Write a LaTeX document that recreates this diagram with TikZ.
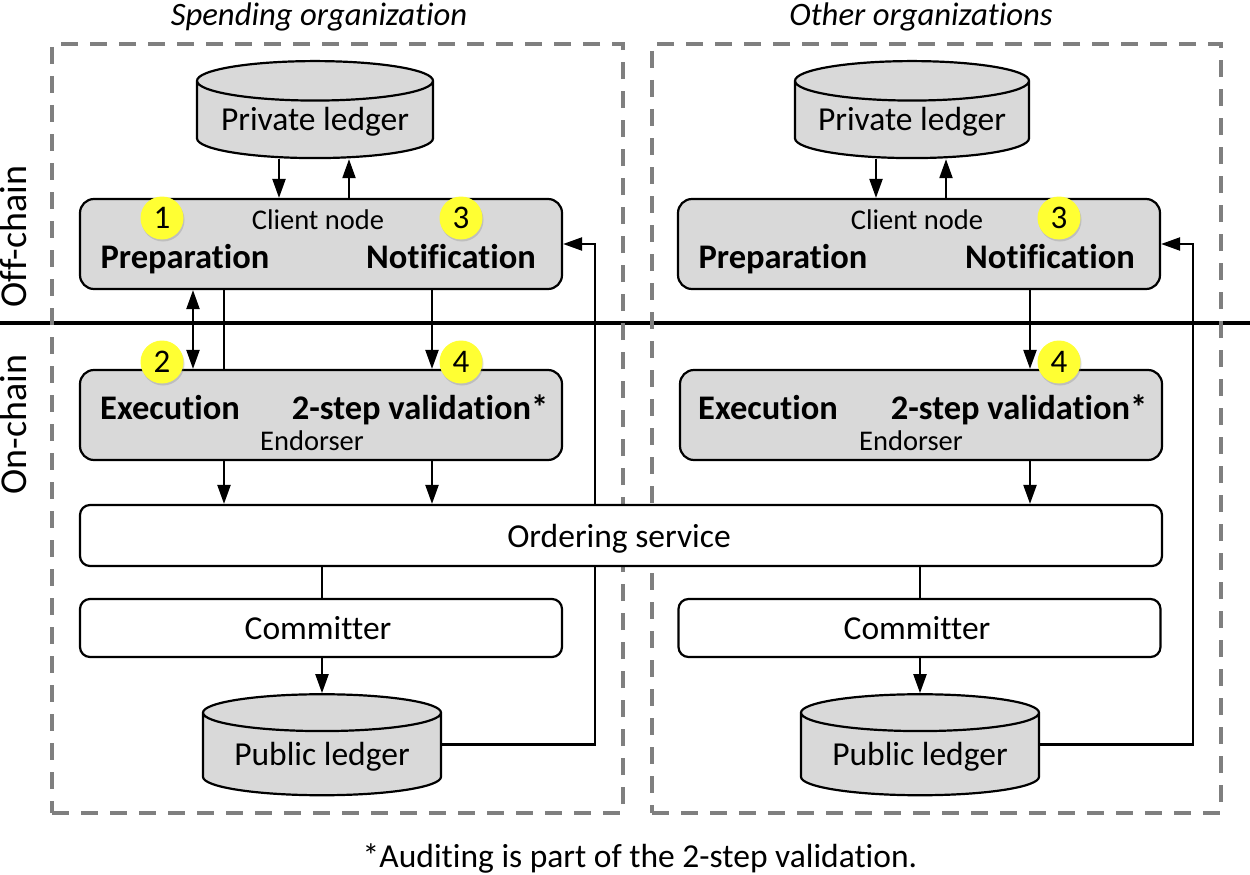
\documentclass[tikz,border=0pt]{standalone}
\usepackage{fontspec}
\setmainfont{Carlito}[Ligatures=NoCommon]
\usetikzlibrary{arrows.meta,shapes.geometric,shadows}
\definecolor{blockgray}{HTML}{D9D9D9}
\definecolor{dashgray}{HTML}{7F7F7F}
\definecolor{badgeyellow}{HTML}{FFFF33}
\tikzset{
  x=1pt, y=-1pt,
  arr/.style={line width=2.2pt, -{Triangle[length=19pt,width=13pt]}},
  wire/.style={line width=2.2pt},
  orgbox/.style={draw=dashgray, line width=3.5pt, dash pattern=on 17pt off 12pt, minimum height=769pt},
  big/.style={font=\fontsize{33.5}{33.5}\selectfont, text height=26pt, text depth=3pt},
  small/.style={font=\fontsize{28.5}{28.5}\selectfont, text height=23pt, text depth=2pt},
  stepname/.style={font=\fontsize{34.5}{34.5}\selectfont\bfseries, text height=26pt, text depth=3pt},
  side/.style={font=\fontsize{38}{38}\selectfont, text height=29pt, text depth=3pt, rotate=90},
  grayblock/.style={draw, line width=2.2pt, fill=blockgray, rounded corners=14pt, minimum width=482pt, minimum height=90pt},
  whiteblock/.style={draw, line width=2.2pt, fill=white, rounded corners=10pt, minimum width=482pt, big},
  ledger/.style={draw, line width=2.2pt, fill=blockgray, cylinder, shape border rotate=90, cylinder uses custom fill,
    cylinder body fill=blockgray, cylinder end fill=blockgray, shape aspect=0.21, inner sep=0pt, minimum height=97pt, big,
    text height=24pt, text depth=3pt},
  badge/.style={circle, fill=badgeyellow, minimum size=43pt, inner sep=0pt, font=\fontsize{33}{33}\selectfont,
    drop shadow={shadow xshift=1pt, shadow yshift=-2pt, opacity=.3}}
}
\begin{document}
\begin{tikzpicture}
  \useasboundingbox (0,0) rectangle (1250,875);
  \coordinate (hl) at (0,323);
  \coordinate (hr) at (1250,323);
  \draw[line width=4pt] (hl) -- (hr);
  \node (OrgA) [orgbox, draw, minimum width=571pt] at (337.5,428.5) {};
  \node (OrgB) [orgbox, draw, minimum width=569pt] at (936.5,428.5) {};
  \node (TitleA) [big, font=\fontsize{32.7}{33}\selectfont\itshape] at (319,14) {Spending organization};
  \node (TitleB) [big, font=\fontsize{32.7}{33}\selectfont\itshape] at (921,14) {Other organizations};
  \node (OffC) [side] at (14,236.5) {Off-chain};
  \node (OnC) [side] at (14,424.5) {On-chain};
  % spending organization
  \node (PrivA) [ledger, minimum width=236pt] at (315,120) {Private ledger};
  \node (CliA) [grayblock] at (321,244) {};
  \node (EndA) [grayblock] at (321,415) {};
  \node (ComA) [whiteblock, minimum height=58pt] at (321,628) {Committer\kern6pt};
  \node (PubA) [ledger, minimum width=238pt, minimum height=101pt] at (322,754.5) {Public ledger};
  % other organizations
  \node (PrivB) [ledger, minimum width=234pt] at (912,120) {Private ledger};
  \node (CliB) [grayblock] at (919,244) {};
  \node (EndB) [grayblock] at (921,415) {};
  \node (ComB) [whiteblock, minimum height=58pt] at (919.5,628) {Committer\kern5pt};
  \node (PubB) [ledger, minimum width=238pt, minimum height=101pt] at (920,754.5) {Public ledger};
  \coordinate (backA) at (595,244);
  \coordinate (backB) at (1193,244);
  \draw[arr] ([yshift=10pt]PubA.east) -| (backA) -- (CliA.east);
  \draw[arr] ([yshift=10pt]PubB.east) -| (backB) -- (CliB.east);
  \node (Ord) [whiteblock, minimum width=1082pt, minimum height=61pt] at (621,535.5) {Ordering service\kern4pt};
  % labels in the blocks
  \node (CliAt) [small] at (318,219) {Client node};
  \node (PrepA) [stepname] at (185,257) {Preparation};
  \node (NotiA) [stepname] at (451,257) {Notification};
  \node (ExecA) [stepname] at (170,408) {Execution};
  \node (ValA) [stepname] at (420,408) {2-step validation*};
  \node (EndAt) [small] at (312,440) {Endorser};
  \node (CliBt) [small] at (917,219) {Client node};
  \node (PrepB) [stepname] at (783,257) {Preparation};
  \node (NotiB) [stepname] at (1050,257) {Notification};
  \node (ExecB) [stepname] at (768,408) {Execution};
  \node (ValB) [stepname] at (1019,408) {2-step validation*};
  \node (EndBt) [small] at (911,440) {Endorser};
  % connectors
  \draw[arr] ([xshift=-36pt]PrivA.bottom) -- ([xshift=-36pt]PrivA.bottom |- CliA.north);
  \draw[arr] ([xshift=28pt]CliA.north) -- ([xshift=28pt]CliA.north |- PrivA.bottom);
  \draw[arr, {Triangle[length=19pt,width=13pt]}-{Triangle[length=19pt,width=13pt]}] ([xshift=-128pt]CliA.south) -- ([xshift=-128pt]EndA.north);
  \draw[wire] ([xshift=-97pt]CliA.south) -- ([xshift=-97pt]EndA.north);
  \draw[arr] ([xshift=111pt]CliA.south) -- ([xshift=111pt]EndA.north);
  \draw[arr] ([xshift=-97pt]EndA.south) -- ([xshift=-97pt]EndA.south |- Ord.north);
  \draw[arr] ([xshift=111pt]EndA.south) -- ([xshift=111pt]EndA.south |- Ord.north);
  \draw[wire] (PubA.top |- Ord.south) -- (PubA.top |- ComA.north);
  \draw[arr] (PubA.top |- ComA.south) -- (PubA.top);
  \draw[arr] ([xshift=-36pt]PrivB.bottom) -- ([xshift=-36pt]PrivB.bottom |- CliB.north);
  \draw[arr] ([xshift=27pt]CliB.north) -- ([xshift=27pt]CliB.north |- PrivB.bottom);
  \draw[arr] ([xshift=111pt]CliB.south) -- ([xshift=109pt]EndB.north);
  \draw[arr] ([xshift=109pt]EndB.south) -- ([xshift=109pt]EndB.south |- Ord.north);
  \draw[wire] (PubB.top |- Ord.south) -- (PubB.top |- ComB.north);
  \draw[arr] (PubB.top |- ComB.south) -- (PubB.top);
  % numbered steps
  \node (StepA) [badge] at (162,218) {1};
  \node (StepB) [badge] at (162,362) {2};
  \node (StepC) [badge] at (461,218) {3};
  \node (StepD) [badge] at (461,362) {4};
  \node (StepE) [badge] at (1059,218) {3};
  \node (StepF) [badge] at (1059,362) {4};
  \node (Note) [big] at (640,856) {*Auditing is part of the 2-step validation.};
\end{tikzpicture}
\end{document}
